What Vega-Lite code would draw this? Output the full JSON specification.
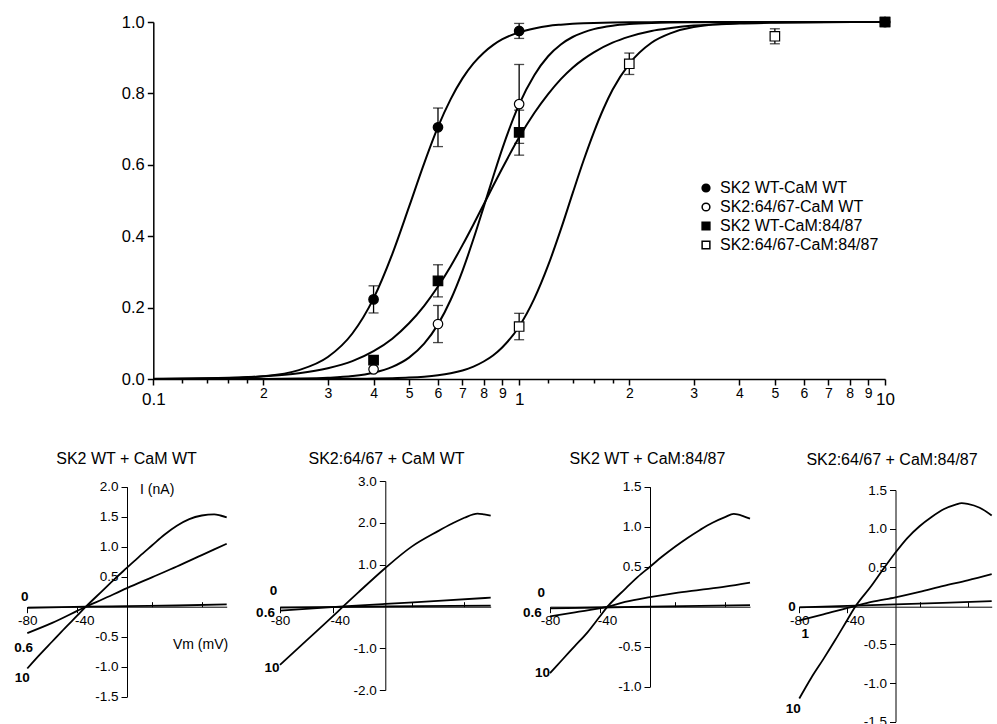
{
"$schema": "https://vega.github.io/schema/vega-lite/v6.json",
"autosize": {"type": "pad"},
"padding": {"left": 0, "top": 14, "right": 0, "bottom": 0},
"background": "white",
"config": {"font": "Liberation Sans", "view": {"stroke": null}, "axis": {"grid": false, "labelColor": "black", "domainColor": "black", "tickColor": "black", "title": null}},
"datasets": {
"curves": [
{"c":"a","x":0.1,"y":0.0002},{"c":"a","x":0.15,"y":0.0018},{"c":"a","x":0.2,"y":0.0079},{"c":"a","x":0.25,"y":0.0249},{"c":"a","x":0.3,"y":0.0616},{"c":"a","x":0.35,"y":0.1275},{"c":"a","x":0.4,"y":0.226},{"c":"a","x":0.45,"y":0.35},{"c":"a","x":0.5,"y":0.482},{"c":"a","x":0.55,"y":0.604},{"c":"a","x":0.6,"y":0.706},{"c":"a","x":0.65,"y":0.784},{"c":"a","x":0.7,"y":0.842},{"c":"a","x":0.75,"y":0.884},{"c":"a","x":0.8,"y":0.914},{"c":"a","x":0.85,"y":0.936},{"c":"a","x":0.9,"y":0.952},{"c":"a","x":1,"y":0.971},{"c":"a","x":1.1,"y":0.982},{"c":"a","x":1.2,"y":0.989},{"c":"a","x":1.3,"y":0.9925},{"c":"a","x":1.4,"y":0.9949},{"c":"a","x":1.5,"y":0.9964},{"c":"a","x":1.6,"y":0.9974},{"c":"a","x":1.8,"y":0.9986},{"c":"a","x":2,"y":0.9992},{"c":"a","x":2.3,"y":0.9996},{"c":"a","x":2.6,"y":0.9998},{"c":"a","x":3,"y":0.9999},{"c":"a","x":4,"y":1},{"c":"a","x":5,"y":1},{"c":"a","x":7,"y":1},{"c":"a","x":10,"y":1},
{"c":"b","x":0.1,"y":0},{"c":"b","x":0.15,"y":0.0001},{"c":"b","x":0.2,"y":0.0003},{"c":"b","x":0.25,"y":0.0012},{"c":"b","x":0.3,"y":0.0035},{"c":"b","x":0.35,"y":0.0083},{"c":"b","x":0.4,"y":0.0176},{"c":"b","x":0.45,"y":0.034},{"c":"b","x":0.5,"y":0.06},{"c":"b","x":0.55,"y":0.099},{"c":"b","x":0.6,"y":0.153},{"c":"b","x":0.65,"y":0.222},{"c":"b","x":0.7,"y":0.303},{"c":"b","x":0.75,"y":0.392},{"c":"b","x":0.8,"y":0.482},{"c":"b","x":0.85,"y":0.568},{"c":"b","x":0.9,"y":0.646},{"c":"b","x":1,"y":0.769},{"c":"b","x":1.1,"y":0.851},{"c":"b","x":1.2,"y":0.904},{"c":"b","x":1.3,"y":0.937},{"c":"b","x":1.4,"y":0.958},{"c":"b","x":1.5,"y":0.971},{"c":"b","x":1.6,"y":0.98},{"c":"b","x":1.8,"y":0.9896},{"c":"b","x":2,"y":0.9942},{"c":"b","x":2.3,"y":0.9974},{"c":"b","x":2.6,"y":0.9987},{"c":"b","x":3,"y":0.9994},{"c":"b","x":4,"y":0.9999},{"c":"b","x":5,"y":1},{"c":"b","x":7,"y":1},{"c":"b","x":10,"y":1},
{"c":"c","x":0.1,"y":0.0007},{"c":"c","x":0.15,"y":0.0027},{"c":"c","x":0.2,"y":0.0074},{"c":"c","x":0.25,"y":0.016},{"c":"c","x":0.3,"y":0.03},{"c":"c","x":0.35,"y":0.05},{"c":"c","x":0.4,"y":0.078},{"c":"c","x":0.45,"y":0.113},{"c":"c","x":0.5,"y":0.156},{"c":"c","x":0.55,"y":0.205},{"c":"c","x":0.6,"y":0.259},{"c":"c","x":0.65,"y":0.316},{"c":"c","x":0.7,"y":0.375},{"c":"c","x":0.75,"y":0.433},{"c":"c","x":0.8,"y":0.489},{"c":"c","x":0.85,"y":0.542},{"c":"c","x":0.9,"y":0.591},{"c":"c","x":1,"y":0.677},{"c":"c","x":1.1,"y":0.745},{"c":"c","x":1.2,"y":0.798},{"c":"c","x":1.3,"y":0.84},{"c":"c","x":1.4,"y":0.872},{"c":"c","x":1.5,"y":0.896},{"c":"c","x":1.6,"y":0.915},{"c":"c","x":1.8,"y":0.942},{"c":"c","x":2,"y":0.959},{"c":"c","x":2.3,"y":0.975},{"c":"c","x":2.6,"y":0.983},{"c":"c","x":3,"y":0.99},{"c":"c","x":4,"y":0.996},{"c":"c","x":5,"y":0.998},{"c":"c","x":7,"y":0.9995},{"c":"c","x":10,"y":1},
{"c":"d","x":0.1,"y":0},{"c":"d","x":0.15,"y":0},{"c":"d","x":0.2,"y":0},{"c":"d","x":0.25,"y":0.0001},{"c":"d","x":0.3,"y":0.0002},{"c":"d","x":0.35,"y":0.0006},{"c":"d","x":0.4,"y":0.0012},{"c":"d","x":0.45,"y":0.0022},{"c":"d","x":0.5,"y":0.0039},{"c":"d","x":0.55,"y":0.0066},{"c":"d","x":0.6,"y":0.0106},{"c":"d","x":0.65,"y":0.0163},{"c":"d","x":0.7,"y":0.024},{"c":"d","x":0.75,"y":0.0348},{"c":"d","x":0.8,"y":0.049},{"c":"d","x":0.85,"y":0.0666},{"c":"d","x":0.9,"y":0.089},{"c":"d","x":1,"y":0.147},{"c":"d","x":1.1,"y":0.225},{"c":"d","x":1.2,"y":0.318},{"c":"d","x":1.3,"y":0.419},{"c":"d","x":1.4,"y":0.52},{"c":"d","x":1.5,"y":0.612},{"c":"d","x":1.6,"y":0.691},{"c":"d","x":1.7,"y":0.757},{"c":"d","x":1.8,"y":0.81},{"c":"d","x":2,"y":0.883},{"c":"d","x":2.3,"y":0.942},{"c":"d","x":2.6,"y":0.969},{"c":"d","x":3,"y":0.986},{"c":"d","x":4,"y":0.997},{"c":"d","x":5,"y":0.9991},{"c":"d","x":7,"y":1},{"c":"d","x":10,"y":1}
],
"points": [
{"series":"SK2:64/67-CaM:84/87","x":1,"y":0.147,"lo":0.11,"hi":0.184},
{"series":"SK2:64/67-CaM:84/87","x":2,"y":0.883,"lo":0.853,"hi":0.913},
{"series":"SK2:64/67-CaM:84/87","x":5,"y":0.96,"lo":0.939,"hi":0.981},
{"series":"SK2:64/67-CaM:84/87","x":10,"y":1},
{"series":"SK2:64/67-CaM WT","x":0.4,"y":0.027},
{"series":"SK2:64/67-CaM WT","x":0.6,"y":0.154,"lo":0.102,"hi":0.206},
{"series":"SK2:64/67-CaM WT","x":1,"y":0.77,"lo":0.66,"hi":0.881},
{"series":"SK2:64/67-CaM WT","x":10,"y":1},
{"series":"SK2 WT-CaM WT","x":0.4,"y":0.223,"lo":0.185,"hi":0.261},
{"series":"SK2 WT-CaM WT","x":0.6,"y":0.705,"lo":0.651,"hi":0.759},
{"series":"SK2 WT-CaM WT","x":1,"y":0.975,"lo":0.954,"hi":0.996},
{"series":"SK2 WT-CaM WT","x":10,"y":1},
{"series":"SK2 WT-CaM:84/87","x":0.4,"y":0.053},
{"series":"SK2 WT-CaM:84/87","x":0.6,"y":0.275,"lo":0.23,"hi":0.32},
{"series":"SK2 WT-CaM:84/87","x":1,"y":0.691,"lo":0.627,"hi":0.753},
{"series":"SK2 WT-CaM:84/87","x":10,"y":1}
]
},
"vconcat": [
{
"width": 900, "height": 357,
"layer": [
{"data": {"name": "curves"}, "mark": {"type": "line", "color": "black", "strokeWidth": 2, "interpolate": "monotone"},
 "encoding": {
  "x": {"field": "x", "type": "quantitative", "scale": {"type": "log", "domain": [0.1, 10], "range": [153.3, 885], "nice": false},
   "axis": {"values": [0.1,0.12,0.14,0.16,0.18,0.2,0.3,0.4,0.5,0.6,0.7,0.8,0.9,1,1.2,1.4,1.6,1.8,2,3,4,5,6,7,8,9,10],
    "labelExpr": "datum.value == 0.1 ? '0.1' : datum.value == 1 ? '1' : datum.value == 10 ? '10' : indexof([0.2,0.3,0.4,0.5,0.6,0.7,0.8,0.9], datum.value) >= 0 ? format(datum.value*10,'.0f') : indexof([2,3,4,5,6,7,8,9], datum.value) >= 0 ? format(datum.value,'.0f') : ''",
    "tickSize": {"condition": {"test": "indexof([0.12,0.14,0.16,0.18,1.2,1.4,1.6,1.8], datum.value) >= 0", "value": 4}, "value": 6},
    "labelFontSize": {"condition": {"test": "datum.value == 0.1 || datum.value == 1 || datum.value == 10", "value": 17}, "value": 14},
    "labelPadding": {"condition": {"test": "datum.value == 0.1 || datum.value == 1 || datum.value == 10", "value": 6}, "value": 1},
    "labelFlush": false, "labelOverlap": false, "domainWidth": 1.5, "tickWidth": 1.5}},
  "y": {"field": "y", "type": "quantitative", "scale": {"domain": [0, 1], "nice": false},
   "axis": {"values": [0,0.2,0.4,0.6,0.8,1], "format": ".1f", "offset": -153.3, "tickSize": 6, "labelFontSize": 16.5, "labelPadding": 3, "domainWidth": 1.5, "tickWidth": 1.5}},
  "detail": {"field": "c"}}},
{"data": {"name": "points"}, "transform": [{"filter": "isValid(datum.lo)"}], "mark": {"type": "rule", "color": "black", "strokeWidth": 1.3},
 "encoding": {"x": {"field": "x", "type": "quantitative"}, "y": {"field": "lo", "type": "quantitative"}, "y2": {"field": "hi"}}},
{"data": {"name": "points"}, "transform": [{"filter": "isValid(datum.lo)"}], "mark": {"type": "tick", "orient": "horizontal", "color": "black", "size": 10, "thickness": 1.3},
 "encoding": {"x": {"field": "x", "type": "quantitative"}, "y": {"field": "lo", "type": "quantitative"}}},
{"data": {"name": "points"}, "transform": [{"filter": "isValid(datum.lo)"}], "mark": {"type": "tick", "orient": "horizontal", "color": "black", "size": 10, "thickness": 1.3},
 "encoding": {"x": {"field": "x", "type": "quantitative"}, "y": {"field": "hi", "type": "quantitative"}}},
{"data": {"name": "points"}, "mark": {"type": "point", "filled": true, "stroke": "black", "strokeWidth": 1.2, "size": 90, "opacity": 1},
 "encoding": {"x": {"field": "x", "type": "quantitative"}, "y": {"field": "y", "type": "quantitative"},
  "shape": {"field": "series", "type": "nominal", "sort": null, "scale": {"domain": ["SK2 WT-CaM WT","SK2:64/67-CaM WT","SK2 WT-CaM:84/87","SK2:64/67-CaM:84/87"], "range": ["circle","circle","square","square"]},
   "legend": {"title": null, "orient": "none", "legendX": 698, "legendY": 158, "labelFontSize": 16, "symbolSize": 60, "rowPadding": 3, "padding": 0, "labelOffset": 6, "labelColor": "black", "encode": {"symbols": {"update": {"stroke": {"value": "black"}, "strokeWidth": {"value": 1}}}}}},
  "fill": {"field": "series", "type": "nominal", "sort": null, "scale": {"domain": ["SK2 WT-CaM WT","SK2:64/67-CaM WT","SK2 WT-CaM:84/87","SK2:64/67-CaM:84/87"], "range": ["black","white","black","white"]},
   "legend": {"title": null, "orient": "none", "legendX": 698, "legendY": 158, "labelFontSize": 16, "symbolSize": 60, "rowPadding": 3, "padding": 0, "labelOffset": 6, "labelColor": "black", "encode": {"symbols": {"update": {"stroke": {"value": "black"}, "strokeWidth": {"value": 1}}}}}}}}
]
},
{
"hconcat": [
{
"width": 253, "height": 243,
"title": {"text": "SK2 WT + CaM WT", "frame": "group", "fontSize": 16, "fontWeight": "normal", "offset": 13, "anchor": "middle"},
"layer": [
{"data": {"values": [
{"t":"10","v":-80,"i":-1.03},{"t":"10","v":-70,"i":-0.8},{"t":"10","v":-60,"i":-0.58},{"t":"10","v":-50,"i":-0.36},{"t":"10","v":-40,"i":-0.15},{"t":"10","v":-33,"i":0},{"t":"10","v":-20,"i":0.26},{"t":"10","v":-10,"i":0.46},{"t":"10","v":0,"i":0.65},{"t":"10","v":10,"i":0.84},{"t":"10","v":20,"i":1.02},{"t":"10","v":30,"i":1.2},{"t":"10","v":40,"i":1.35},{"t":"10","v":50,"i":1.46},{"t":"10","v":60,"i":1.52},{"t":"10","v":70,"i":1.54},{"t":"10","v":75,"i":1.52},{"t":"10","v":80,"i":1.49},
{"t":"0.6","v":-80,"i":-0.44},{"t":"0.6","v":-60,"i":-0.27},{"t":"0.6","v":-40,"i":-0.07},{"t":"0.6","v":-33,"i":0},{"t":"0.6","v":-20,"i":0.12},{"t":"0.6","v":0,"i":0.31},{"t":"0.6","v":20,"i":0.49},{"t":"0.6","v":40,"i":0.67},{"t":"0.6","v":60,"i":0.86},{"t":"0.6","v":80,"i":1.05},
{"t":"0","v":-80,"i":-0.02},{"t":"0","v":-33,"i":0},{"t":"0","v":0,"i":0.01},{"t":"0","v":40,"i":0.02},{"t":"0","v":80,"i":0.04}
]},
 "mark": {"type": "line", "color": "black", "strokeWidth": 1.8, "interpolate": "monotone"},
 "encoding": {
  "x": {"field": "v", "type": "quantitative", "scale": {"domain": [-80, 80], "range": [27.3, 226.7], "nice": false, "zero": false},
   "axis": {"values": [-80,-60,-40,-20,20,40,60,80], "offset": -117.3, "labelExpr": "abs(datum.value) % 40 == 0 ? (datum.value < 0 ? '-' : '') + abs(datum.value) : ''", "tickSize": {"condition": {"test": "abs(datum.value) % 40 != 0", "value": -5}, "value": 6}, "labelOffset": {"condition": {"test": "datum.value == -40", "value": 7}, "value": 0}, "labelFontSize": 13.5, "labelPadding": 1, "labelFlush": false, "labelOverlap": false}},
  "y": {"field": "i", "type": "quantitative", "scale": {"domain": [-1.5, 2], "range": [215.7, 5.7], "nice": false, "zero": false},
   "axis": {"values": [-1.5,-1,-0.5,0.5,1,1.5,2], "offset": -127, "labelExpr": "(datum.value < 0 ? '-' : '') + format(abs(datum.value), '.1f')", "tickSize": 6, "labelFontSize": 13.5, "labelPadding": 3}},
  "detail": {"field": "t"}}},
{"data": {"values": [{"label":"0","v":-82,"i":0.17},{"label":"0.6","v":-83,"i":-0.69},{"label":"10","v":-84,"i":-1.19}]},
 "mark": {"type": "text", "fontWeight": "bold", "fontSize": 13.5, "color": "black"},
 "encoding": {"x": {"field": "v", "type": "quantitative"}, "y": {"field": "i", "type": "quantitative"}, "text": {"field": "label"}}},
{"data": {"values": [{"label":"I (nA)","v":10.5,"i":1.95}]},
 "mark": {"type": "text", "fontSize": 14, "color": "black", "align": "left"},
 "encoding": {"x": {"field": "v", "type": "quantitative"}, "y": {"field": "i", "type": "quantitative"}, "text": {"field": "label"}}},
{"data": {"values": [{"label":"Vm (mV)","v":59,"i":-0.64}]},
 "mark": {"type": "text", "fontSize": 14, "color": "black", "align": "center"},
 "encoding": {"x": {"field": "v", "type": "quantitative"}, "y": {"field": "i", "type": "quantitative"}, "text": {"field": "label"}}}
]
},
{
"width": 267, "height": 243,
"title": {"text": "SK2:64/67 + CaM WT", "frame": "group", "fontSize": 16, "fontWeight": "normal", "offset": 7, "anchor": "middle"},
"layer": [
{"data": {"values": [
{"t":"10","v":-80,"i":-1.4},{"t":"10","v":-60,"i":-0.82},{"t":"10","v":-40,"i":-0.24},{"t":"10","v":-32,"i":0},{"t":"10","v":-20,"i":0.35},{"t":"10","v":0,"i":0.92},{"t":"10","v":20,"i":1.43},{"t":"10","v":40,"i":1.8},{"t":"10","v":50,"i":1.97},{"t":"10","v":60,"i":2.12},{"t":"10","v":70,"i":2.22},{"t":"10","v":75,"i":2.2},{"t":"10","v":80,"i":2.17},
{"t":"0.6","v":-80,"i":-0.1},{"t":"0.6","v":-32,"i":0},{"t":"0.6","v":0,"i":0.06},{"t":"0.6","v":40,"i":0.13},{"t":"0.6","v":80,"i":0.21},
{"t":"0","v":-80,"i":-0.03},{"t":"0","v":0,"i":0},{"t":"0","v":80,"i":0.02}
]},
 "mark": {"type": "line", "color": "black", "strokeWidth": 1.8, "interpolate": "monotone"},
 "encoding": {
  "x": {"field": "v", "type": "quantitative", "scale": {"domain": [-80, 80], "range": [27, 237.7], "nice": false, "zero": false},
   "axis": {"values": [-80,-60,-40,-20,20,40,60,80], "offset": -117.3, "labelExpr": "abs(datum.value) % 40 == 0 ? (datum.value < 0 ? '-' : '') + abs(datum.value) : ''", "tickSize": {"condition": {"test": "abs(datum.value) % 40 != 0", "value": -5}, "value": 6}, "labelOffset": {"condition": {"test": "datum.value == -40", "value": 7}, "value": 0}, "labelFontSize": 13.5, "labelPadding": 1, "labelFlush": false, "labelOverlap": false}},
  "y": {"field": "i", "type": "quantitative", "scale": {"domain": [-2, 3], "range": [209, 0], "nice": false, "zero": false},
   "axis": {"values": [-2,-1,1,2,3], "offset": -132.3, "labelExpr": "(datum.value < 0 ? '-' : '') + format(abs(datum.value), '.1f')", "tickSize": 6, "labelFontSize": 13.5, "labelPadding": 3}},
  "detail": {"field": "t"}}},
{"data": {"values": [{"label":"0","v":-85,"i":0.38},{"label":"0.6","v":-91,"i":-0.16},{"label":"10","v":-86,"i":-1.48}]},
 "mark": {"type": "text", "fontWeight": "bold", "fontSize": 13.5, "color": "black"},
 "encoding": {"x": {"field": "v", "type": "quantitative"}, "y": {"field": "i", "type": "quantitative"}, "text": {"field": "label"}}}
]
},
{
"width": 255, "height": 243,
"title": {"text": "SK2 WT + CaM:84/87", "frame": "group", "fontSize": 16, "fontWeight": "normal", "offset": 13, "anchor": "middle"},
"layer": [
{"data": {"values": [
{"t":"10","v":-80,"i":-0.83},{"t":"10","v":-70,"i":-0.66},{"t":"10","v":-60,"i":-0.49},{"t":"10","v":-50,"i":-0.32},{"t":"10","v":-40,"i":-0.12},{"t":"10","v":-34,"i":0},{"t":"10","v":-20,"i":0.22},{"t":"10","v":-10,"i":0.37},{"t":"10","v":0,"i":0.5},{"t":"10","v":10,"i":0.63},{"t":"10","v":20,"i":0.75},{"t":"10","v":30,"i":0.86},{"t":"10","v":40,"i":0.96},{"t":"10","v":50,"i":1.05},{"t":"10","v":60,"i":1.12},{"t":"10","v":67,"i":1.16},{"t":"10","v":75,"i":1.13},{"t":"10","v":80,"i":1.1},
{"t":"0.6","v":-80,"i":-0.12},{"t":"0.6","v":-60,"i":-0.07},{"t":"0.6","v":-34,"i":0},{"t":"0.6","v":-20,"i":0.06},{"t":"0.6","v":0,"i":0.12},{"t":"0.6","v":20,"i":0.17},{"t":"0.6","v":40,"i":0.21},{"t":"0.6","v":60,"i":0.25},{"t":"0.6","v":80,"i":0.3},
{"t":"0","v":-80,"i":-0.02},{"t":"0","v":0,"i":0},{"t":"0","v":80,"i":0.02}
]},
 "mark": {"type": "line", "color": "black", "strokeWidth": 1.8, "interpolate": "monotone"},
 "encoding": {
  "x": {"field": "v", "type": "quantitative", "scale": {"domain": [-80, 80], "range": [30, 230], "nice": false, "zero": false},
   "axis": {"values": [-80,-60,-40,-20,20,40,60,80], "offset": -117.3, "labelExpr": "abs(datum.value) % 40 == 0 ? (datum.value < 0 ? '-' : '') + abs(datum.value) : ''", "tickSize": {"condition": {"test": "abs(datum.value) % 40 != 0", "value": -5}, "value": 6}, "labelOffset": {"condition": {"test": "datum.value == -40", "value": 7}, "value": 0}, "labelFontSize": 13.5, "labelPadding": 1, "labelFlush": false, "labelOverlap": false}},
  "y": {"field": "i", "type": "quantitative", "scale": {"domain": [-1, 1.5], "range": [205.7, 5.7], "nice": false, "zero": false},
   "axis": {"values": [-1,-0.5,0.5,1,1.5], "offset": -130, "labelExpr": "(datum.value < 0 ? '-' : '') + format(abs(datum.value), '.1f')", "tickSize": 6, "labelFontSize": 13.5, "labelPadding": 3}},
  "detail": {"field": "t"}}},
{"data": {"values": [{"label":"0","v":-87,"i":0.17},{"label":"0.6","v":-94,"i":-0.08},{"label":"10","v":-86,"i":-0.83}]},
 "mark": {"type": "text", "fontWeight": "bold", "fontSize": 13.5, "color": "black"},
 "encoding": {"x": {"field": "v", "type": "quantitative"}, "y": {"field": "i", "type": "quantitative"}, "text": {"field": "label"}}}
]
},
{
"width": 222, "height": 243,
"title": {"text": "SK2:64/67 + CaM:84/87", "frame": "group", "fontSize": 16, "fontWeight": "normal", "offset": 13, "anchor": "middle", "dx": 6},
"layer": [
{"data": {"values": [
{"t":"10","v":-80,"i":-1.2},{"t":"10","v":-70,"i":-0.93},{"t":"10","v":-60,"i":-0.69},{"t":"10","v":-50,"i":-0.44},{"t":"10","v":-40,"i":-0.18},{"t":"10","v":-33,"i":0},{"t":"10","v":-20,"i":0.26},{"t":"10","v":-10,"i":0.48},{"t":"10","v":0,"i":0.69},{"t":"10","v":10,"i":0.88},{"t":"10","v":20,"i":1.03},{"t":"10","v":30,"i":1.15},{"t":"10","v":40,"i":1.25},{"t":"10","v":50,"i":1.31},{"t":"10","v":55,"i":1.33},{"t":"10","v":60,"i":1.32},{"t":"10","v":70,"i":1.27},{"t":"10","v":80,"i":1.17},
{"t":"1","v":-80,"i":-0.19},{"t":"1","v":-60,"i":-0.11},{"t":"1","v":-33,"i":0},{"t":"1","v":-20,"i":0.05},{"t":"1","v":0,"i":0.11},{"t":"1","v":20,"i":0.18},{"t":"1","v":40,"i":0.26},{"t":"1","v":60,"i":0.33},{"t":"1","v":80,"i":0.41},
{"t":"0","v":-80,"i":-0.02},{"t":"0","v":0,"i":0.02},{"t":"0","v":80,"i":0.06}
]},
 "mark": {"type": "line", "color": "black", "strokeWidth": 1.8, "interpolate": "monotone"},
 "encoding": {
  "x": {"field": "v", "type": "quantitative", "scale": {"domain": [-80, 80], "range": [24.3, 216.7], "nice": false, "zero": false},
   "axis": {"values": [-80,-60,-40,-20,20,40,60,80], "offset": -117.3, "labelExpr": "abs(datum.value) % 40 == 0 ? (datum.value < 0 ? '-' : '') + abs(datum.value) : ''", "tickSize": {"condition": {"test": "abs(datum.value) % 40 != 0", "value": -5}, "value": 6}, "labelOffset": {"condition": {"test": "datum.value == -40", "value": 7}, "value": 0}, "labelFontSize": 13.5, "labelPadding": 1, "labelFlush": false, "labelOverlap": false}},
  "y": {"field": "i", "type": "quantitative", "scale": {"domain": [-1.5, 1.5], "range": [240.7, 9], "nice": false, "zero": false},
   "axis": {"values": [-1.5,-1,-0.5,0.5,1,1.5], "offset": -120.5, "labelExpr": "(datum.value < 0 ? '-' : '') + format(abs(datum.value), '.1f')", "tickSize": 6, "labelFontSize": 13.5, "labelPadding": 3}},
  "detail": {"field": "t"}}},
{"data": {"values": [{"label":"0","v":-86,"i":-0.02},{"label":"1","v":-75,"i":-0.36},{"label":"10","v":-85,"i":-1.33}]},
 "mark": {"type": "text", "fontWeight": "bold", "fontSize": 13.5, "color": "black"},
 "encoding": {"x": {"field": "v", "type": "quantitative"}, "y": {"field": "i", "type": "quantitative"}, "text": {"field": "label"}}}
]
}
],
"spacing": 0,
"bounds": "flush"
}
],
"spacing": 102,
"bounds": "flush"
}
